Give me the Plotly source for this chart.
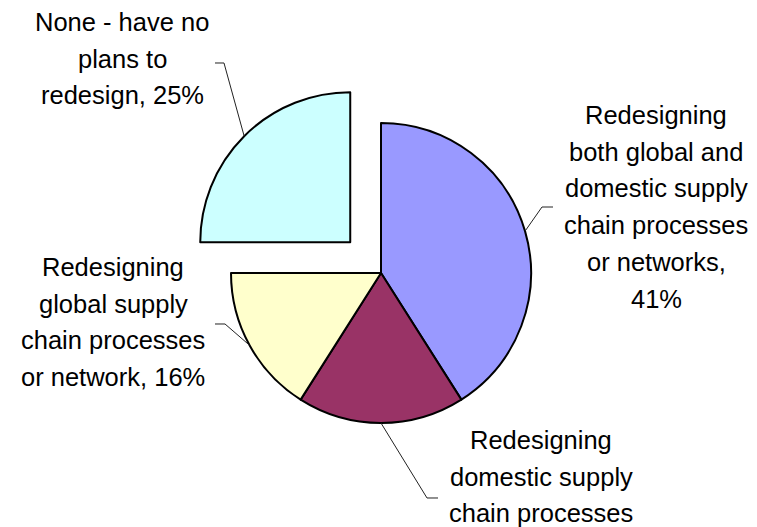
import math
import plotly.graph_objects as go

# Survey answers and their shares (percent)
categories = [
    "Redesigning both global and domestic supply chain processes or networks",
    "Redesigning domestic supply chain processes or networks",
    "Redesigning global supply chain processes or network",
    "None - have no plans to redesign",
]
shares = [41, 18, 16, 25]
pulls = [0, 0, 0, 0.29]
colors = ["#9999FF", "#993366", "#FFFFCC", "#CCFFFF"]

# Wrapped data-label text; {p} is replaced by the slice share
label_templates = [
    "Redesigning<br>both global and<br>domestic supply<br>chain processes<br>or networks,<br>{p}%",
    "Redesigning<br>domestic supply<br>chain processes",
    "Redesigning<br>global supply<br>chain processes<br>or network, {p}%",
    "None - have no<br>plans to<br>redesign, {p}%",
]

W, H = 757, 527
CX, CY, R = 381, 273, 150          # pie centre and radius in pixels
LINE_STEP = 36.7                   # label line spacing in pixels
FONT = dict(family="Liberation Sans, Arial, sans-serif", size=25.5, color="black")

# label placement: centre x and first-line centre y (pixels)
label_pos = [(656, 115), (541, 440), (113, 267), (122, 22)]
# leader-line elbow and end points (pixels)
leader_pts = [
    [(542, 207), (553, 207)],
    [(427, 498), (438, 498)],
    [(225, 324), (215, 324)],
    [(224, 63), (215, 63)],
]

max_pull = max(pulls)
half = R * (1 + max_pull)
domain_x = [(CX - half) / W, (CX + half) / W]
domain_y = [(H - CY - half) / H, (H - CY + half) / H]


def px(x, y):
    return x / W, 1 - y / H


fig = go.Figure(
    go.Pie(
        labels=categories,
        values=shares,
        pull=pulls,
        sort=False,
        direction="clockwise",
        rotation=0,
        textinfo="none",
        hoverinfo="label+percent",
        marker=dict(colors=colors, line=dict(color="black", width=2)),
        domain=dict(x=domain_x, y=domain_y),
    )
)

annotations = []
shapes = []
total = sum(shares)
cum = 0
for i, v in enumerate(shares):
    # slice mid-angle, measured clockwise from 12 o'clock
    mid = 2 * math.pi * (cum + v / 2) / total
    cum += v
    ox = CX + pulls[i] * R * math.sin(mid)
    oy = CY - pulls[i] * R * math.cos(mid)
    ax = ox + R * math.sin(mid)
    ay = oy - R * math.cos(mid)

    pts = [(ax, ay)] + leader_pts[i]
    path = "M " + " L ".join("{:.5f},{:.5f}".format(*px(x, y)) for x, y in pts)
    shapes.append(dict(type="path", xref="paper", yref="paper", path=path,
                       line=dict(color="#222222", width=1)))

    lx, ly = label_pos[i]
    for k, line in enumerate(label_templates[i].format(p=v).split("<br>")):
        x, y = px(lx, ly + k * LINE_STEP)
        annotations.append(dict(text=line, x=x, y=y, xref="paper", yref="paper",
                                xanchor="center", yanchor="middle",
                                showarrow=False, font=FONT))

fig.update_layout(
    width=W,
    height=H,
    margin=dict(l=0, r=0, t=0, b=0),
    paper_bgcolor="white",
    plot_bgcolor="white",
    showlegend=False,
    annotations=annotations,
    shapes=shapes,
)

fig.write_html("out.html")
